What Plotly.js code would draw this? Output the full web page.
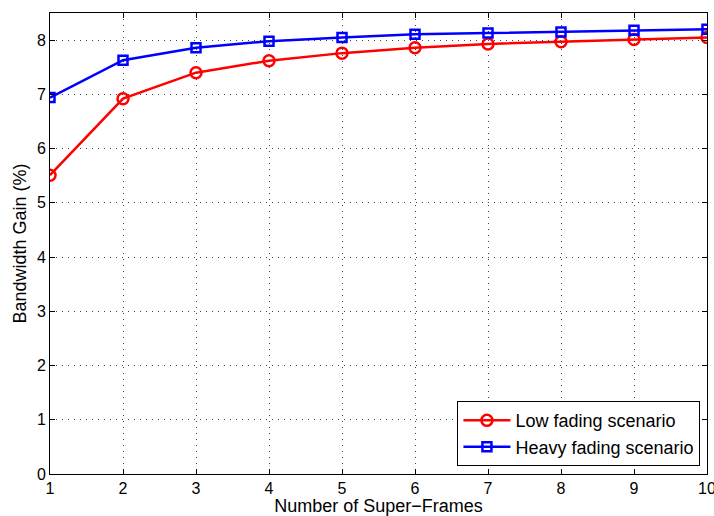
<!DOCTYPE html>
<html>
<head>
<meta charset="utf-8">
<script src="https://cdn.plot.ly/plotly-3.0.1.min.js"></script>
<style>html,body{margin:0;padding:0;background:#fff;}#chart{width:714px;height:516px;}</style>
</head>
<body>
<div id="chart"></div>
<script>
const superFrames = [1, 2, 3, 4, 5, 6, 7, 8, 9, 10];
const lowFading = [5.51, 6.92, 7.40, 7.62, 7.76, 7.86, 7.93, 7.97, 8.01, 8.05];
const heavyFading = [6.94, 7.63, 7.86, 7.98, 8.05, 8.11, 8.13, 8.15, 8.18, 8.20];
const xTicks = [1, 2, 3, 4, 5, 6, 7, 8, 9, 10];
const yTicks = [0, 1, 2, 3, 4, 5, 6, 7, 8];

const font = 'Liberation Sans, Arial, sans-serif';
const traces = [
  {x: superFrames, y: lowFading, name: 'Low fading scenario', type: 'scatter', mode: 'lines+markers',
   line: {color: '#ff0000', width: 2.5},
   marker: {symbol: 'circle-open', size: 11, color: '#ff0000', line: {width: 2.5, color: '#ff0000'}}},
  {x: superFrames, y: heavyFading, name: 'Heavy fading scenario', type: 'scatter', mode: 'lines+markers',
   line: {color: '#0000ff', width: 2.5},
   marker: {symbol: 'square-open', size: 9, color: '#0000ff', line: {width: 2.5, color: '#0000ff'}}}
];
const axisCommon = {
  showline: true, linecolor: '#000', linewidth: 1, mirror: 'ticks',
  ticks: 'inside', ticklen: 5, tickcolor: '#000',
  showgrid: true, gridcolor: '#444', griddash: '1px,5px', gridwidth: 1,
  zeroline: false, ticklabeloverflow: 'allow',
  tickfont: {family: font, size: 16, color: '#000'}
};
const layout = {
  width: 714, height: 516,
  margin: {l: 50, r: 7, t: 13, b: 42},
  paper_bgcolor: '#fff', plot_bgcolor: '#fff',
  showlegend: true,
  legend: {x: 0.99, xanchor: 'right', y: 0.017, yanchor: 'bottom',
    bgcolor: '#fff', bordercolor: '#000', borderwidth: 1, itemwidth: 47,
    font: {family: font, size: 18, color: '#000'}, tracegroupgap: 0},
  xaxis: Object.assign({}, axisCommon, {range: [1, 10], tickvals: xTicks, ticklabelstandoff: 0,
    title: {text: 'Number of Super\u2212Frames', font: {family: font, size: 18, color: '#000'}, standoff: 0}}),
  yaxis: Object.assign({}, axisCommon, {range: [0, 8.5], tickvals: yTicks,
    title: {text: 'Bandwidth Gain (%)', font: {family: font, size: 18, color: '#000'}, standoff: 5}})
};
Plotly.newPlot('chart', traces, layout, {displayModeBar: false});
</script>
</body>
</html>
